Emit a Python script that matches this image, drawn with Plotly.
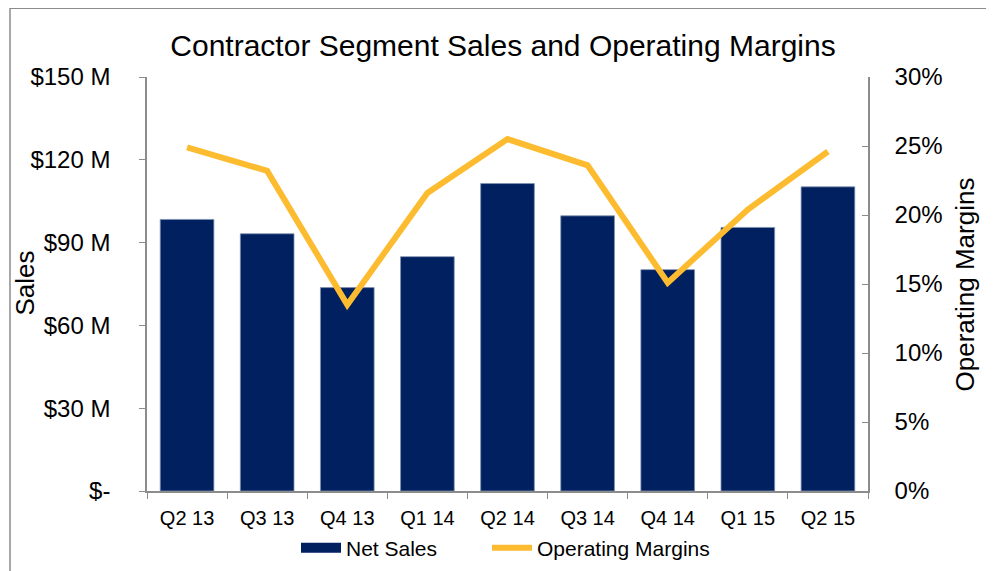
import plotly.graph_objects as go

quarters = ["Q2 13", "Q3 13", "Q4 13", "Q1 14", "Q2 14", "Q3 14", "Q4 14", "Q1 15", "Q2 15"]
net_sales = [98.4, 93.2, 73.7, 84.9, 111.4, 99.7, 80.2, 95.5, 110.2]  # $ millions
operating_margins = [24.9, 23.2, 13.5, 21.6, 25.5, 23.6, 15.1, 20.4, 24.6]  # percent

sales_ticks = [0, 30, 60, 90, 120, 150]
sales_tick_text = ["$-", "$30 M", "$60 M", "$90 M", "$120 M", "$150 M"]
margin_ticks = [0, 5, 10, 15, 20, 25, 30]
margin_tick_text = ["0%", "5%", "10%", "15%", "20%", "25%", "30%"]

FONT = "Liberation Sans, Arial, sans-serif"
AXIS_GRAY = "#8c8c8c"
NAVY = "#002060"
GOLD = "#FDBB30"

# page has an 8px body margin; target positions below are screen pixels
OFF = 8
W, H = 994, 571
PL, PR, PT, PB = 147, 868, 77, 492  # plot area on screen
L = PL - OFF
T = PT - OFF
R = W - (PR - OFF)
B = H - (PB - OFF)
pw, ph = PR - PL, PB - PT

def px_x(x):
    return (x - PL) / pw

def px_y(y):
    return (PB - y) / ph

fig = go.Figure()
fig.add_trace(go.Bar(
    x=quarters, y=net_sales, name="Net Sales",
    marker=dict(color=NAVY, line=dict(color="#8090b0", width=0.8)),
    yaxis="y", showlegend=False, legendgroup="sales",
))
# legend entry for the bars drawn as a wide swatch (like the original)
fig.add_trace(go.Scatter(
    x=[None], y=[None], name="Net Sales", mode="lines",
    line=dict(color=NAVY, width=12), legendgroup="sales",
    legendwidth=136, hoverinfo="skip",
))
fig.add_trace(go.Scatter(
    x=quarters, y=operating_margins, name="Operating Margins",
    mode="lines", line=dict(color=GOLD, width=6),
    yaxis="y2",
))

fig.update_layout(
    width=W, height=H,
    margin=dict(l=L, r=R, t=T, b=B),
    paper_bgcolor="white", plot_bgcolor="white",
    font=dict(family=FONT, color="black"),
    bargap=0.33,
    showlegend=True,
    title=dict(
        text="Contractor Segment Sales and Operating Margins",
        x=(503 - OFF) / W, xanchor="center", y=1 - (45 - OFF) / H, yanchor="middle",
        font=dict(size=30, family=FONT, color="black"),
    ),
    xaxis=dict(
        type="category", showline=True, linecolor=AXIS_GRAY, linewidth=1.5,
        ticks="outside", tickson="boundaries", ticklen=6, tickcolor=AXIS_GRAY,
        tickfont=dict(size=20), ticklabelstandoff=8,
        showgrid=False, zeroline=False,
    ),
    yaxis=dict(
        range=[0, 150], tickvals=sales_ticks, ticktext=sales_tick_text,
        showline=True, linecolor=AXIS_GRAY, linewidth=1.5,
        ticks="outside", ticklen=6, tickcolor=AXIS_GRAY,
        tickfont=dict(size=24), ticklabelstandoff=24,
        showgrid=False, zeroline=False,
    ),
    yaxis2=dict(
        range=[0, 30], tickvals=margin_ticks, ticktext=margin_tick_text,
        overlaying="y", side="right",
        showline=True, linecolor=AXIS_GRAY, linewidth=1.5,
        ticks="inside", ticklen=6, tickcolor=AXIS_GRAY,
        tickfont=dict(size=24), ticklabelstandoff=20,
        showgrid=False, zeroline=False,
    ),
    legend=dict(
        orientation="h", x=px_x(296), xanchor="left",
        y=px_y(548), yanchor="middle",
        font=dict(size=21), itemwidth=40, tracegroupgap=0,
        bgcolor="rgba(0,0,0,0)",
    ),
    annotations=[
        dict(text="Sales", textangle=-90, x=px_x(25), y=px_y(284),
             xref="paper", yref="paper", showarrow=False,
             font=dict(size=26), xanchor="center", yanchor="middle"),
        dict(text="Operating Margins", textangle=-90, x=px_x(965), y=px_y(285),
             xref="paper", yref="paper", showarrow=False,
             font=dict(size=26), xanchor="center", yanchor="middle"),
    ],
    shapes=[
        dict(type="rect", xref="paper", yref="paper",
             x0=px_x(10), x1=px_x(1010), y0=px_y(590), y1=px_y(8),
             line=dict(color="#8c8c8c", width=1.5), fillcolor="rgba(0,0,0,0)",
             layer="below"),
    ],
)

fig.write_html("out.html")
